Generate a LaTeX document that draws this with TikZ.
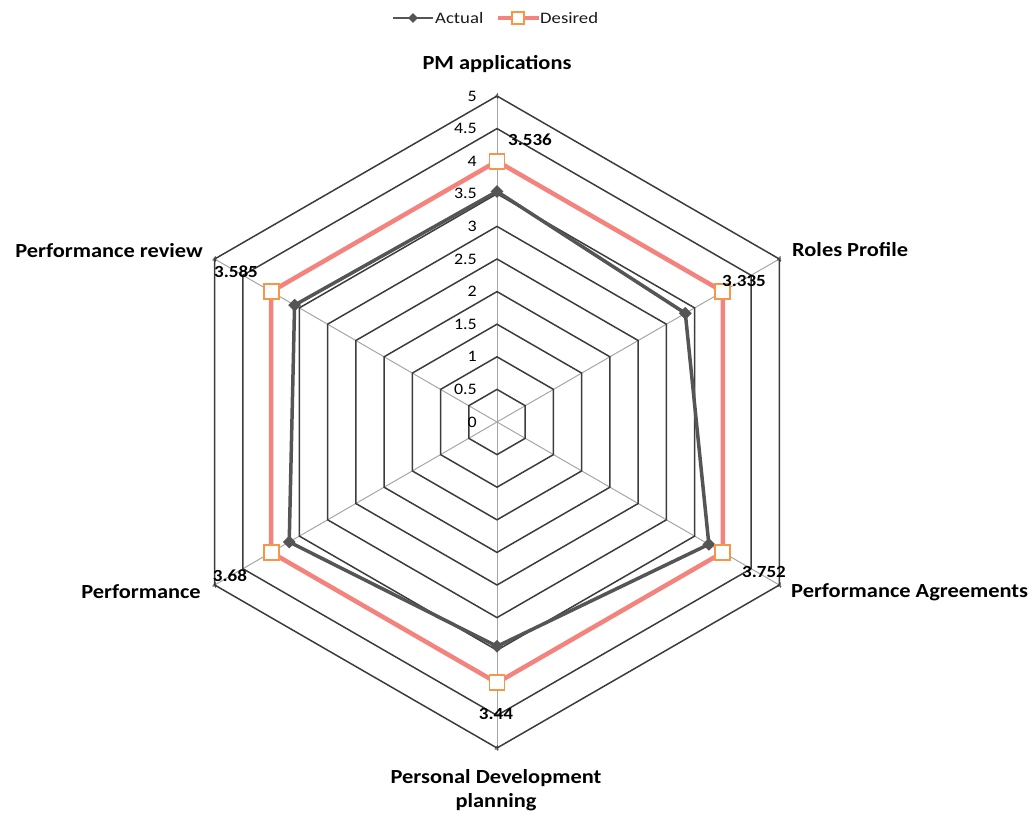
\documentclass[tikz,border=0pt]{standalone}
\usepackage{fontspec}
\setmainfont{Carlito}
\newfontfamily\labfont[FakeStretch=1.12]{Carlito}
\newfontfamily\legfont[FakeStretch=1.17]{Carlito}
\newfontfamily\valfont[FakeStretch=1.12]{Carlito}
\usetikzlibrary{shapes.geometric,calc}
\definecolor{ringc}{HTML}{3C3C3C}
\definecolor{spokec}{HTML}{A6A6A6}
\definecolor{actc}{HTML}{555555}
\definecolor{desc}{HTML}{F4837D}
\definecolor{mkc}{HTML}{F79646}
\tikzset{
  ring/.style={draw=ringc,line width=1.5pt},
  spoke/.style={draw=spokec,line width=1pt},
  actline/.style={draw=actc,line width=3.5pt,line join=round},
  desline/.style={draw=desc,line width=4.5pt,line join=miter},
  actmark/.style={diamond,fill=actc,inner sep=0pt,minimum size=13pt},
  desmark/.style={rectangle,draw=mkc,fill=white,line width=1.8pt,inner sep=0pt,minimum size=15pt},
  axlab/.style={font=\labfont\bfseries\fontsize{20}{24}\selectfont,text=black,inner sep=0pt},
  vallab/.style={font=\valfont\bfseries\fontsize{17}{19}\selectfont,text=black,inner sep=0pt},
  ticklab/.style={font=\valfont\fontsize{16}{18}\selectfont,text=black,inner sep=0pt,anchor=east},
  vtick/.style={font=\fontsize{9}{10}\selectfont,text=black!80,inner sep=0pt},
  leglab/.style={font=\legfont\fontsize{16}{18}\selectfont,text=black!90,inner sep=0pt,anchor=west}
}
\begin{document}
\begin{tikzpicture}[x=1pt,y=-1pt]
\useasboundingbox (0,0) rectangle (1036,817);
\def\cx{497}\def\cy{422}\def\u{65.2}
% spokes
\foreach \k in {0,...,5}{
  \coordinate (o\k) at ({\cx+5*\u*sin(60*\k)},{\cy-5*\u*cos(60*\k)});
  \draw[spoke] (\cx,\cy) -- (o\k);
}
% rings
\foreach \r in {0.5,1,...,5}{
  \draw[ring] ({\cx},{\cy-\r*\u})
    \foreach \k in {1,...,5}{ -- ({\cx+\r*\u*sin(60*\k)},{\cy-\r*\u*cos(60*\k)}) } -- cycle;
}
% tick labels
\foreach \r/\t in {0/0,0.5/0.5,1/1,1.5/1.5,2/2,2.5/2.5,3/3,3.5/3.5,4/4,4.5/4.5,5/5}{
  \node[ticklab] at (477,{\cy-\r*\u}) {\t};
}
% small vertex ticks
\foreach \k in {0,...,5}{ \node[vtick] at ($(o\k)+(0,1)$) {4}; }
% desired
\foreach \k in {0,...,5}{
  \coordinate (d\k) at ({\cx+4*\u*sin(60*\k)},{\cy-4*\u*cos(60*\k)});
}
\draw[desline] (d0)--(d1)--(d2)--(d3)--(d4)--(d5)--cycle;
% actual
\foreach \k/\v in {0/3.536,1/3.335,2/3.752,3/3.44,4/3.68,5/3.585}{
  \coordinate (a\k) at ({\cx+\v*\u*sin(60*\k)},{\cy-\v*\u*cos(60*\k)});
}
\draw[actline] (a0)--(a1)--(a2)--(a3)--(a4)--(a5)--cycle;
\foreach \k in {0,...,5}{ \node[actmark] (am\k) at (a\k) {}; }
\foreach \k in {0,...,5}{ \node[desmark] (dm\k) at (d\k) {}; }
% value labels
\node[vallab] (v0) at (530,140) {3.536};
\node[vallab] (v1) at (744,281) {3.335};
\node[vallab] (v2) at (764,572) {3.752};
\node[vallab] (v3) at (496,714) {3.44};
\node[vallab] (v4) at (230,576) {3.68};
\node[vallab] (v5) at (236,272) {3.585};
% axis labels
\node[axlab] (l0) at (497,64) {PM applications};
\node[axlab,anchor=west] (l1) at (792,250) {Roles Profile};
\node[axlab,anchor=west] (l2) at (791,592) {Performance Agreements};
\node[axlab,align=center] (l3) at (496,790) {Personal Development\\[0pt]planning};
\node[axlab,anchor=east] (l4) at (201,592) {Performance};
\node[axlab,anchor=east] (l5) at (203,251) {Performance review};
% legend
\coordinate (la1) at (393,18); \coordinate (la2) at (433,18);
\draw[draw=actc,line width=2.8pt] (la1) -- (la2);
\node[actmark,minimum size=10pt] (lam) at (413,18) {};
\node[leglab] (lat) at (435,18) {Actual};
\coordinate (ld1) at (498,18); \coordinate (ld2) at (539,18);
\draw[draw=desc,line width=3.5pt] (ld1) -- (ld2);
\node[desmark,minimum size=12pt,line width=1.6pt] (ldm) at (518,18) {};
\node[leglab] (ldt) at (540,18) {Desired};
\end{tikzpicture}
\end{document}
